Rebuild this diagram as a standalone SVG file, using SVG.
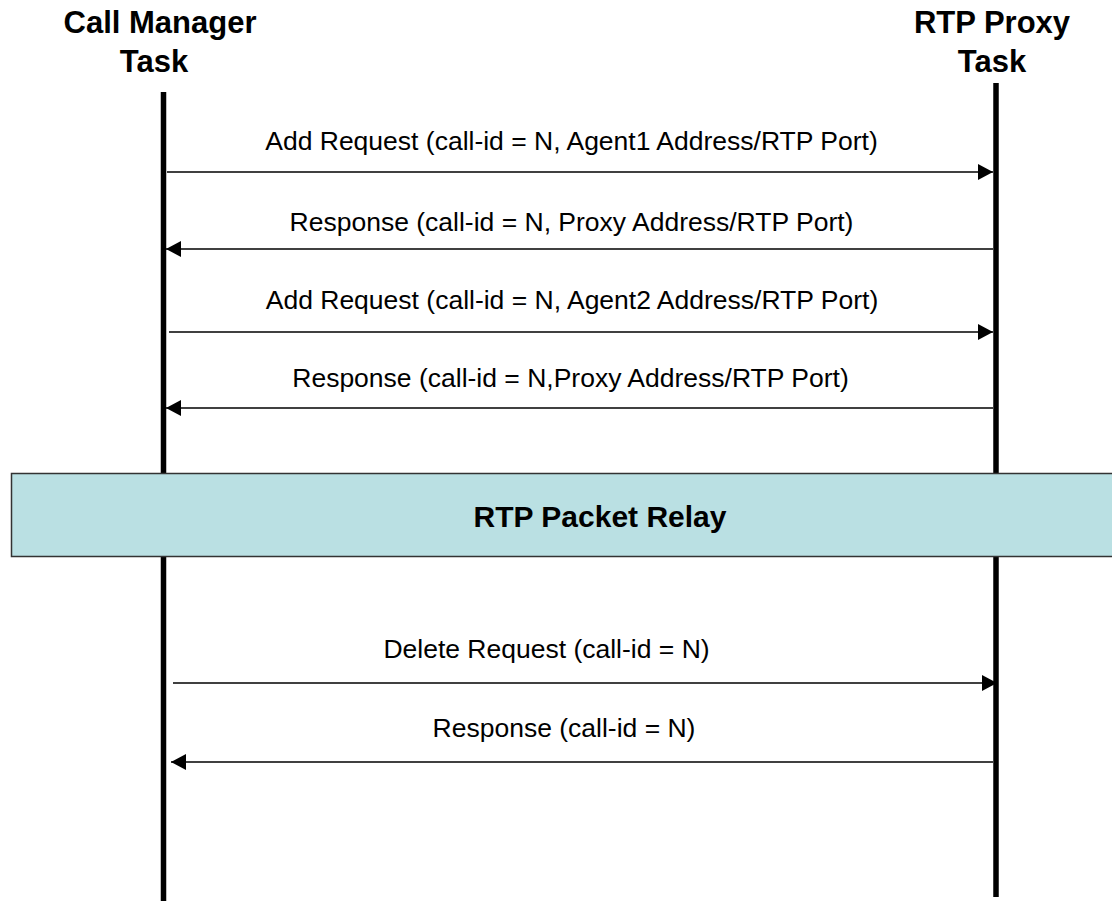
<svg xmlns="http://www.w3.org/2000/svg" width="1112" height="901" viewBox="0 0 1112 901">
<style>
.hdr{font-family:"Liberation Sans",Arial,sans-serif;font-weight:bold;font-size:31px;fill:#000;text-anchor:middle}
.msg{font-family:"Liberation Sans",Arial,sans-serif;font-size:26.5px;fill:#000;text-anchor:middle}
.life{stroke:#000;stroke-width:5.5;fill:none}
.conn{stroke:#000;stroke-width:1.6;fill:none;marker-end:url(#ah)}
</style>
<defs>
<marker id="ah" markerUnits="userSpaceOnUse" markerWidth="16" markerHeight="17" viewBox="0 0 16 17" refX="15" refY="8.5" orient="auto">
<path d="M0,0.5 L15,8.5 L0,16.5 Z" fill="#000"/>
</marker>
</defs>
<rect width="1112" height="901" fill="#fff"/>
<g id="cm">
<text class="hdr" x="160" y="33">Call Manager</text>
<text class="hdr" x="154" y="72">Task</text>
<line class="life" x1="163.5" y1="92" x2="163.5" y2="901"/>
</g>
<g id="rtp">
<text class="hdr" x="992" y="33">RTP Proxy</text>
<text class="hdr" x="992" y="72">Task</text>
<line class="life" x1="996" y1="83" x2="996" y2="897"/>
</g>
<g id="relay">
<rect x="11.5" y="473.5" width="1110" height="83" fill="#BAE0E3" stroke="#333" stroke-width="1.5"/>
<text class="hdr" x="600" y="527" style="font-size:30px">RTP Packet Relay</text>
</g>
<g id="connectors">
<line class="conn" x1="167" y1="172" x2="993" y2="172"/>
<line class="conn" x1="993" y1="249" x2="166" y2="249"/>
<line class="conn" x1="169" y1="332" x2="993" y2="332"/>
<line class="conn" x1="993" y1="408" x2="166" y2="408"/>
<line class="conn" x1="173" y1="683" x2="997" y2="683"/>
<line class="conn" x1="993" y1="762" x2="171" y2="762"/>
</g>
<g id="labels">
<text class="msg" x="571.5" y="150">Add Request (call-id = N, Agent1 Address/RTP Port)</text>
<text class="msg" x="571.5" y="231">Response (call-id = N, Proxy Address/RTP Port)</text>
<text class="msg" x="572" y="309">Add Request (call-id = N, Agent2 Address/RTP Port)</text>
<text class="msg" x="570.5" y="387">Response (call-id = N,Proxy Address/RTP Port)</text>
<text class="msg" x="546.5" y="658">Delete Request (call-id = N)</text>
<text class="msg" x="564" y="737">Response (call-id = N)</text>
</g>
</svg>
